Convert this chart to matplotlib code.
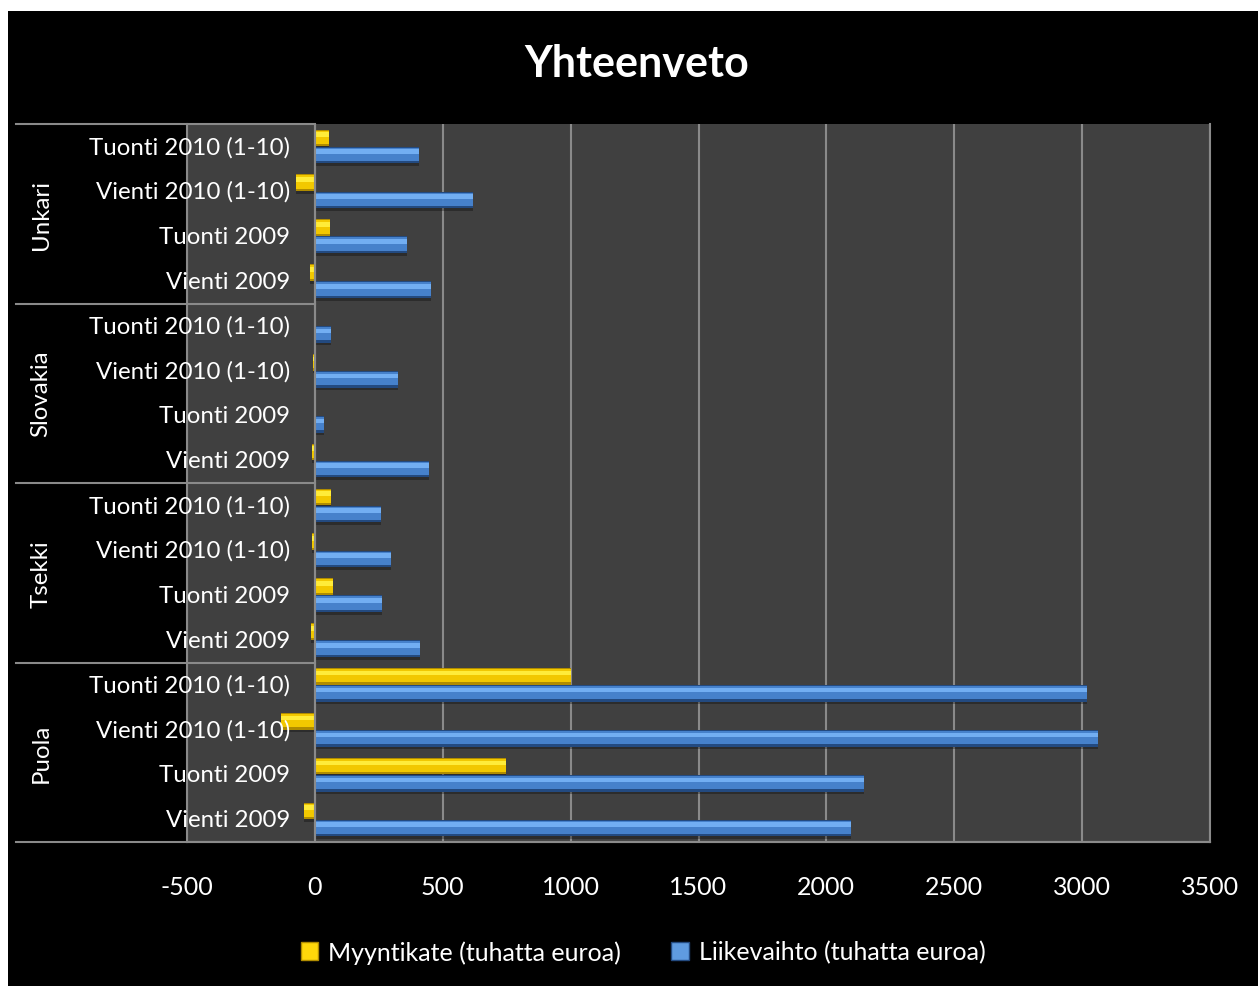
import matplotlib
matplotlib.use("Agg")
import matplotlib.pyplot as plt
import matplotlib.transforms as mtransforms
from matplotlib.lines import Line2D
from matplotlib.patches import Rectangle

plt.rcParams["font.family"] = ["Lato", "DejaVu Sans"]

# countries and periods, listed bottom to top as they stack in the chart
groups = ["Puola", "Tsekki", "Slovakia", "Unkari"]
periods = ["Vienti 2009", "Tuonti 2009", "Vienti 2010 (1-10)", "Tuonti 2010 (1-10)"]

# thousands of euros, one value per (group, period), bottom to top
myyntikate = [-42, 747, -133, 1000,
              -14, 69, -10, 65,
              -10, 2, -8, 6,
              -20, 59, -75, 56]
liikevaihto = [2095, 2149, 3064, 3020,
               412, 263, 297, 258,
               447, 35, 326, 64,
               456, 362, 617, 408]

x_ticks = [-500, 0, 500, 1000, 1500, 2000, 2500, 3000, 3500]

BG = "#000000"
PLOT_BG = "#404040"
GRID = "#8a8a8a"
FG = "#ffffff"

W, H = 1258, 987
fig = plt.figure(figsize=(W / 100, H / 100), dpi=100, facecolor="white")
# black chart area inside a thin white margin on the top and left
fig.patches.append(Rectangle((8 / W, 0), 1 - 8 / W, 1 - 12 / H,
                             transform=fig.transFigure, facecolor=BG,
                             edgecolor="none", zorder=-10))

ax = fig.add_axes([187 / W, 1 - 843 / H, 1023 / W, 718 / H])
ax.set_facecolor(PLOT_BG)

n = len(myyntikate)
ypos = list(range(n))
bh = 0.37
off = 0.19


def bevel_bars(y, vals, dark, base, light):
    # drop shadow, dark rim, body, then a lighter band on the upper half
    ax.barh([v - 0.06 for v in y], vals, height=bh,
            color="black", alpha=0.3, linewidth=0, zorder=2)
    ax.barh(y, vals, height=bh, color=dark, linewidth=0, zorder=3)
    ax.barh([v + bh * 0.04 for v in y], vals, height=bh * 0.80,
            color=base, linewidth=0, zorder=4)
    ax.barh([v + bh * 0.2 for v in y], vals, height=bh * 0.28,
            color=light, linewidth=0, zorder=5)


bevel_bars([p - off for p in ypos], liikevaihto,
           "#234a80", "#4681cb", "#72aef2")
bevel_bars([p + off for p in ypos], myyntikate,
           "#b08c00", "#f2c800", "#ffec3a")

ax.set_xlim(-500, 3500)
ax.set_ylim(-0.5, n - 0.5)
ax.set_xticks(x_ticks)
ax.set_xticklabels([str(t) for t in x_ticks])
ax.set_yticks([])
ax.tick_params(axis="x", length=0, pad=24, labelsize=18, colors=FG)
ax.grid(axis="x", color=GRID, linewidth=1.5, zorder=1)
ax.set_axisbelow(True)

ax.spines["top"].set_visible(False)
for side in ("left", "right", "bottom"):
    ax.spines[side].set_color(GRID)
    ax.spines[side].set_linewidth(1.5)

# labels and separators live in axes-x / data-y space
trans = mtransforms.blended_transform_factory(ax.transAxes, ax.transData)
zero_frac = (0 - x_ticks[0]) / (x_ticks[-1] - x_ticks[0])
left_frac = (16 - 187) / 1023

for i in range(n):
    ax.text(0.1007, i, periods[i % len(periods)], transform=trans,
            ha="right", va="center", fontsize=17.3, color=FG, zorder=8)

for g, name in enumerate(groups):
    mid = g * len(periods) + (len(periods) - 1) / 2
    ax.text(-0.1427, mid, name, transform=trans, rotation=90,
            ha="center", va="center", fontsize=17.3, color=FG)

for g in range(len(groups) + 1):
    yb = g * len(periods) - 0.5
    x_end = 1.0 if g == 0 else zero_frac
    ax.add_line(Line2D([left_frac, x_end], [yb, yb], transform=trans,
                       color=GRID, linewidth=1.5, clip_on=False, zorder=7))

ax.axvline(0, color=GRID, linewidth=1.5, zorder=7)

fig.text(637 / W, 1 - 64 / H, "Yhteenveto", ha="center", va="center",
         fontsize=31, fontweight="bold", color=FG)

handles = [Rectangle((0, 0), 1, 1, facecolor="#ffd80a", edgecolor="#b08c00"),
           Rectangle((0, 0), 1, 1, facecolor="#5f9be0", edgecolor="#234a80")]
leg = fig.legend(handles, ["Myyntikate (tuhatta euroa)", "Liikevaihto (tuhatta euroa)"],
                 loc="center", bbox_to_anchor=(643 / W, 1 - 953 / H), ncol=2,
                 frameon=False, fontsize=18, handlelength=0.7, handleheight=0.7,
                 handletextpad=0.4, columnspacing=2.0)
for t in leg.get_texts():
    t.set_color(FG)

fig.savefig("out.png", dpi=100, facecolor=fig.get_facecolor())
